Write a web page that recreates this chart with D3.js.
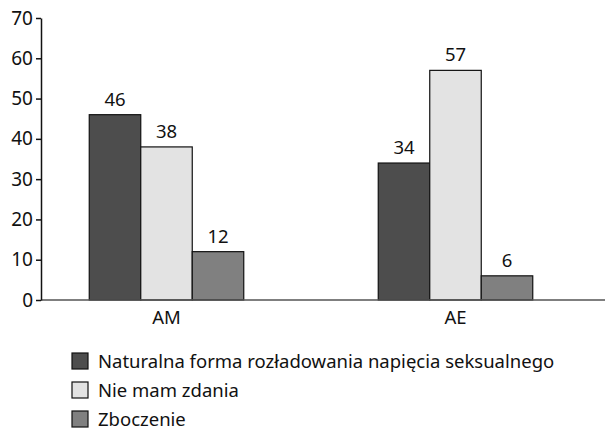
<!DOCTYPE html>
<html>
<head>
<meta charset="utf-8">
<script src="https://cdn.jsdelivr.net/npm/d3@7"></script>
<style>
  body { margin: 0; background: #fff; }
  svg text { font-family: "Noto Sans", "Open Sans", sans-serif; }
</style>
</head>
<body>
<div id="wrapper"></div>
<script>
// data
const categories = ["AM", "AE"]
const seriesNames = [
  "Naturalna forma rozładowania napięcia seksualnego",
  "Nie mam zdania",
  "Zboczenie"
]
const seriesColors = ["#4d4d4d", "#e3e3e3", "#808080"]
const valuesAM = [46, 38, 12]
const valuesAE = [34, 57, 6]
const yTicks = [0, 10, 20, 30, 40, 50, 60, 70]

function drawBars() {
  const dataset = categories.map((c, i) => ({
    category: c,
    values: [valuesAM, valuesAE][i]
  }))

  const dms = { width: 609, height: 429 }
  const axisX = 41
  const baseY = 300
  const fontSize = "18.5px"

  const wrapper = d3.select("#wrapper")
    .append("svg")
    .attr("width", dms.width)
    .attr("height", dms.height)

  // scales
  const yScale = d3.scaleLinear()
    .domain([0, 70])
    .range([baseY, 18])

  const x0 = d3.scaleBand()
    .domain(categories)
    .range([22, 600])

  const groupWidth = 154.5
  const x1 = d3.scaleBand()
    .domain(d3.range(seriesNames.length))
    .range([0, groupWidth])

  // bars
  const groups = wrapper.append("g")
    .selectAll("g")
    .data(dataset)
    .join("g")
    .attr("transform", d => `translate(${x0(d.category) + x0.bandwidth() / 2 - groupWidth / 2},0)`)

  groups.selectAll("rect")
    .data(d => d.values)
    .join("rect")
    .attr("x", (d, i) => x1(i))
    .attr("y", d => yScale(d))
    .attr("width", x1.bandwidth())
    .attr("height", d => baseY - yScale(d))
    .attr("fill", (d, i) => seriesColors[i])
    .attr("stroke", "#111")
    .attr("stroke-width", 1.2)

  groups.selectAll("text")
    .data(d => d.values)
    .join("text")
    .attr("x", (d, i) => x1(i) + x1.bandwidth() / 2)
    .attr("y", d => yScale(d) - 9)
    .attr("text-anchor", "middle")
    .attr("font-size", fontSize)
    .attr("fill", "#111")
    .text(d => d)

  // x baseline
  wrapper.append("line")
    .attr("x1", axisX)
    .attr("x2", 605)
    .attr("y1", baseY)
    .attr("y2", baseY)
    .attr("stroke", "#555")
    .attr("stroke-width", 1.5)

  // x labels
  const xAxis = wrapper.append("g")
    .attr("transform", `translate(0,${baseY})`)
    .call(d3.axisBottom(x0).tickSize(0).tickPadding(11))
  xAxis.select(".domain").remove()
  xAxis.selectAll("text")
    .attr("font-size", fontSize)
    .attr("fill", "#111")
    .style("font-family", "'Noto Sans', sans-serif")

  // y axis
  const yAxis = wrapper.append("g")
    .attr("transform", `translate(${axisX},0)`)
    .call(d3.axisLeft(yScale).tickValues(yTicks).tickSize(5).tickPadding(3).tickSizeOuter(0))
  yAxis.select(".domain").attr("stroke", "#111").attr("stroke-width", 1.5)
  yAxis.selectAll(".tick line").attr("stroke", "#111").attr("stroke-width", 1.5)
  yAxis.selectAll("text")
    .attr("font-size", "19px")
    .attr("fill", "#111")
    .style("font-family", "'Noto Sans', sans-serif")

  // legend
  const legend = wrapper.append("g")
    .attr("transform", "translate(72,353)")

  const items = legend.selectAll("g")
    .data(seriesNames)
    .join("g")
    .attr("transform", (d, i) => `translate(0,${i * 29})`)

  items.append("rect")
    .attr("width", 16)
    .attr("height", 16)
    .attr("fill", (d, i) => seriesColors[i])
    .attr("stroke", "#111")
    .attr("stroke-width", 1.2)

  items.append("text")
    .attr("x", 26)
    .attr("y", 14.5)
    .attr("font-size", fontSize)
    .attr("fill", "#111")
    .text(d => d)
}

drawBars()
</script>
</body>
</html>
